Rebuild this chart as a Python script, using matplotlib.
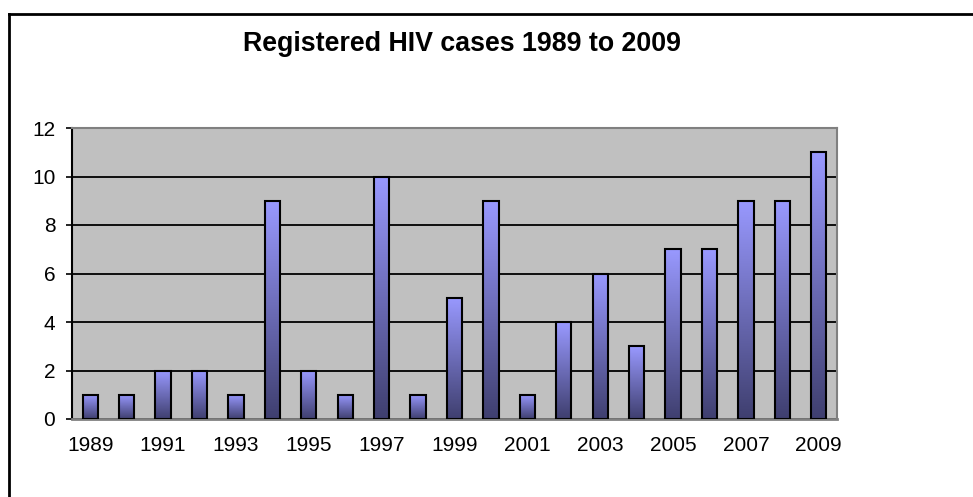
import numpy as np
import matplotlib
matplotlib.use("Agg")
import matplotlib.pyplot as plt
from matplotlib.colors import LinearSegmentedColormap
from matplotlib.lines import Line2D

years = list(range(1989, 2010))
cases = [1, 1, 2, 2, 1, 9, 2, 1, 10, 1, 5, 9, 1, 4, 6, 3, 7, 7, 9, 9, 11]
tick_years = [y for y in years if (y - 1989) % 2 == 0]
title = "Registered HIV cases 1989 to 2009"

plt.rcParams['font.family'] = ['Liberation Sans', 'DejaVu Sans']

W, H = 973, 497
fig = plt.figure(figsize=(W / 100, H / 100), dpi=100)
ax = fig.add_axes([72 / W, 1 - 419 / H, (837 - 72) / W, (419 - 128) / H])
ax.set_facecolor('#C0C0C0')

cmap = LinearSegmentedColormap.from_list('g', ['#3F3F6F', '#9999FF'])
grad = np.linspace(1, 0, 256).reshape(-1, 1)
x = np.arange(len(years))
bw = 0.42
for xi, v in zip(x, cases):
    ax.imshow(grad, extent=[xi - bw / 2, xi + bw / 2, 0, v], aspect='auto',
              cmap=cmap, vmin=0, vmax=1, zorder=3, interpolation='bilinear')
ax.bar(x, cases, width=bw, facecolor='none', edgecolor='black', linewidth=1.5, zorder=4)

ax.set_xlim(-0.5, len(years) - 0.5)
ax.set_ylim(0, 12)
ax.set_yticks(range(0, 13, 2))
ax.yaxis.grid(True, color='black', linewidth=1.3, zorder=1)
ax.set_axisbelow(True)
ax.set_xticks([years.index(y) for y in tick_years])
ax.set_xticklabels([str(y) for y in tick_years])
ax.tick_params(axis='x', length=0, pad=12, labelsize=15)
ax.tick_params(axis='y', length=4, width=1.2, pad=8, labelsize=15, color='black')

for s in ['top', 'right']:
    ax.spines[s].set_color('#808080')
    ax.spines[s].set_linewidth(1.5)
ax.spines['bottom'].set_color('#808080')
ax.spines['bottom'].set_linewidth(2)
ax.spines['left'].set_color('black')
ax.spines['left'].set_linewidth(1.5)

fig.text(462 / W, 1 - 44 / H, title, ha='center', va='center',
         fontsize=19.3, fontweight='bold')

fig.add_artist(Line2D([9 / W, 1], [1 - 14 / H, 1 - 14 / H], color='black', linewidth=2))
fig.add_artist(Line2D([9 / W, 9 / W], [0, 1 - 14 / H], color='black', linewidth=2))

fig.savefig('out.png', dpi=100)
